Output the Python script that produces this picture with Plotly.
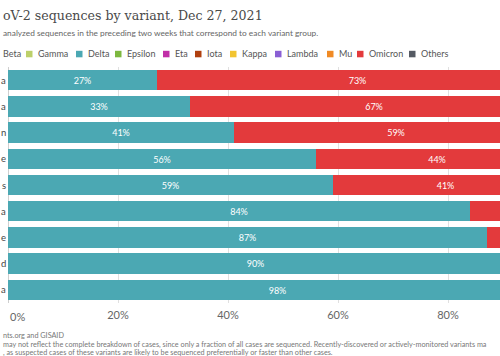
import plotly.graph_objects as go

# ---- data ----
row_labels = ["a", "a", "n", "e", "s", "a", "e", "d", "a"]   # visible (cropped) category labels
delta_share = [27, 33, 41, 56, 59, 84, 87, 90, 98]
omicron_share = [73, 67, 59, 44, 41, 16, 13, 10, 2]
x_tick_vals = [0, 20, 40, 60, 80]
x_tick_text = ["0%", "20%", "40%", "60%", "80%"]
legend_names = ["Beta", "Gamma", "Delta", "Epsilon", "Eta", "Iota", "Kappa", "Lambda", "Mu", "Omicron", "Others"]

# ---- styles ----
variant_colors = {
    "Beta": "#2f6fb0", "Gamma": "#bcd06a", "Delta": "#4ba8b3", "Epsilon": "#7db83f",
    "Eta": "#c12fa8", "Iota": "#b0400f", "Kappa": "#f2c430", "Lambda": "#8a5fd4",
    "Mu": "#f08a24", "Omicron": "#e33a3c", "Others": "#555a63",
}
W, H = 500, 356
L, R, T, B = 8, 0, 67, 53
PW, PH = W - L - R, H - T - B
FULL = 550.0  # pixels for 100%
x_max = PW / FULL * 100

def px(x):
    return (x - L) / PW

def py(y):
    return (H - B - y) / PH

rows = list(range(len(row_labels)))
fig = go.Figure()
start = [0] * len(rows)
for name, vals in [("Delta", delta_share), ("Omicron", omicron_share)]:
    # only label segments whose centre lies inside the visible part of the axis
    labels = [f"{v}%" if s + v / 2 < x_max - 3 else "" for s, v in zip(start, vals)]
    fig.add_trace(go.Bar(
        y=rows, x=vals, orientation="h", name=name,
        marker=dict(color=variant_colors[name], line=dict(width=0)),
        width=0.78,
        text=labels, textposition="inside",
        insidetextanchor="middle", textangle=0,
        textfont=dict(family="Lato", size=9, color="white"),
        cliponaxis=True, showlegend=False,
    ))
    start = [s + v for s, v in zip(start, vals)]

# first tick label is left-aligned at the axis start (drawn as an annotation below)
tick_text = [""] + x_tick_text[1:]
fig.update_layout(
    width=W, height=H, barmode="stack", bargap=0,
    margin=dict(l=L, r=R, t=T, b=B, autoexpand=False),
    paper_bgcolor="white", plot_bgcolor="white",
    font=dict(family="Lato", color="#5b5b5b"),
    xaxis=dict(range=[0, x_max], tickvals=x_tick_vals, ticktext=tick_text,
               showgrid=True, gridcolor="#e0e0e0", zeroline=True,
               zerolinecolor="#cfcfcf", zerolinewidth=1,
               tickfont=dict(family="Lato", size=11, color="#666"), ticks="",
               ticklabelstandoff=4,
               showline=False, automargin=False),
    yaxis=dict(range=[len(rows) - 0.5, -0.5], tickvals=rows,
               showticklabels=False,
               showgrid=False, zeroline=False, ticks="", showline=False, automargin=False),
)

ann = []
ann.append(dict(text=x_tick_text[0], x=x_tick_vals[0], xref="x", y=py(316), yref="paper",
                xanchor="left", yanchor="middle", showarrow=False,
                font=dict(family="Lato", size=11, color="#666")))
# category labels (cropped at the left edge in the reference)
for r, lab in zip(rows, row_labels):
    ann.append(dict(text=lab, x=px(6.2), y=r, xref="paper", yref="y", xanchor="right", yanchor="middle",
                    showarrow=False, borderpad=0, borderwidth=0,
                    font=dict(family="Lato", size=9.5, color="#444")))
ann.append(dict(text="oV-2 sequences by variant, Dec 27, 2021", x=px(0.5), y=py(16), xref="paper", yref="paper",
                xanchor="left", yanchor="middle", showarrow=False,
                font=dict(family="DejaVu Serif", size=12.6, color="#4a4a4a")))
ann.append(dict(text="analyzed sequences in the preceding two weeks that correspond to each variant group.",
                x=px(0.5), y=py(33), xref="paper", yref="paper", xanchor="left", yanchor="middle",
                showarrow=False, font=dict(family="Lato", size=8.3, color="#666")))
footer = [
    ("nts.org and GISAID", 335),
    ("may not reflect the complete breakdown of cases, since only a fraction of all cases are sequenced. Recently-discovered or actively-monitored variants ma", 344),
    (", as suspected cases of these variants are likely to be sequenced preferentially or faster than other cases.", 352.5),
]
for t, yy in footer:
    ann.append(dict(text=t, x=px(0.5), y=py(yy), xref="paper", yref="paper", xanchor="left", yanchor="middle",
                    showarrow=False, font=dict(family="Lato", size=7.25, color="#777")))

# legend (Beta swatch is cropped off at the left edge)
legend_swatch_x = [None, 26, 76, 115, 163, 195, 230, 275, 327, 357, 409]
shapes = []
for name, sx in zip(legend_names, legend_swatch_x):
    tx = 0.8 if sx is None else sx + 10
    if sx is not None:
        shapes.append(dict(type="rect", xref="paper", yref="paper", x0=px(sx), x1=px(sx + 6.5),
                           y0=py(57.3), y1=py(50.8), fillcolor=variant_colors[name], line=dict(width=0)))
    ann.append(dict(text=name, x=px(tx), y=py(54), xref="paper", yref="paper", xanchor="left", yanchor="middle",
                    showarrow=False, font=dict(family="Lato", size=9, color="#555")))

fig.update_layout(annotations=ann, shapes=shapes)
fig.write_html("out.html", config={"displayModeBar": False},
               post_script="document.body.style.margin='0px';")
